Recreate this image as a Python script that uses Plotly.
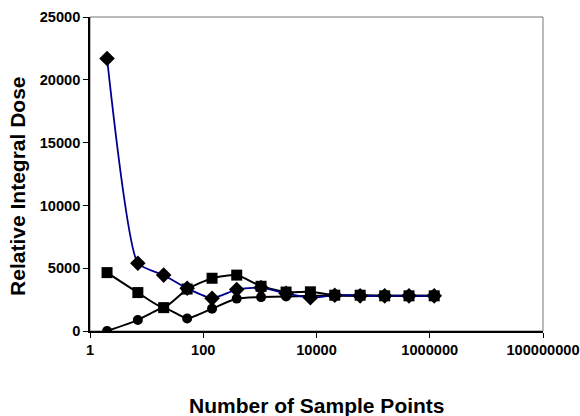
import plotly.graph_objects as go

x_vals = [2, 7, 20, 52, 143, 390, 1050, 2900, 7800, 21000, 59000, 160000, 430000, 1200000]
diamond_vals = [21700, 5400, 4450, 3400, 2600, 3300, 3450, 3000, 2650, 2850, 2800, 2800, 2800, 2800]
square_vals = [4650, 3060, 1860, 3340, 4200, 4450, 3560, 3100, 3120, 2850, 2850, 2800, 2800, 2800]
circle_vals = [0, 870, 1860, 1000, 1780, 2580, 2700, 2750, 2800, 2800, 2800, 2800, 2800, 2800]

x_tickvals = [1, 100, 10000, 1000000, 100000000]
x_ticktext = ["1", "100", "10000", "1000000", "100000000"]
y_tickvals = [0, 5000, 10000, 15000, 20000, 25000]
y_ticktext = ["0", "5000", "10000", "15000", "20000", "25000"]

fig = go.Figure()
fig.add_trace(go.Scatter(x=x_vals, y=circle_vals, mode="lines+markers",
                         line=dict(color="black", width=2, shape="spline", smoothing=0.5),
                         marker=dict(symbol="circle", size=10, color="black")))
fig.add_trace(go.Scatter(x=x_vals, y=square_vals, mode="lines+markers",
                         line=dict(color="black", width=2, shape="spline", smoothing=0.5),
                         marker=dict(symbol="square", size=11, color="black")))
fig.add_trace(go.Scatter(x=x_vals, y=diamond_vals, mode="lines+markers",
                         line=dict(color="#000090", width=1.8, shape="spline", smoothing=0.5),
                         marker=dict(symbol="diamond", size=12, color="black")))

font_family = "Liberation Sans, Arial, sans-serif"
fig.update_layout(
    width=580, height=416,
    margin=dict(l=90, r=37, t=17, b=85, autoexpand=False),
    paper_bgcolor="white", plot_bgcolor="white",
    showlegend=False,
    font=dict(family=font_family, color="black"),
    xaxis=dict(type="log", range=[0, 8], tickvals=x_tickvals, ticktext=x_ticktext,
               automargin=False,
               ticks="outside", ticklen=5, tickcolor="black", showgrid=False, zeroline=False,
               showline=True, linecolor="black", linewidth=1.5,
               tickfont=dict(size=14.6, family=font_family, weight="bold")),
    yaxis=dict(range=[0, 25000], tickvals=y_tickvals, ticktext=y_ticktext,
               automargin=False,
               ticks="outside", ticklen=5, tickcolor="black", showgrid=False, zeroline=False,
               showline=True, linecolor="black", linewidth=1.5,
               tickfont=dict(size=14.6, family=font_family, weight="bold")),
    shapes=[dict(type="rect", xref="x domain", yref="y domain", x0=0, x1=1, y0=0, y1=1,
                 line=dict(color="#777777", width=1), layer="below")],
    annotations=[
        dict(text="Number of Sample Points", xref="paper", yref="paper", x=0.5, y=-0.236,
             xanchor="center", yanchor="middle", showarrow=False,
             font=dict(size=21, family=font_family, weight="bold")),
        dict(text="Relative Integral Dose", xref="paper", yref="paper", x=-0.159, y=0.462,
             xanchor="center", yanchor="middle", showarrow=False, textangle=-90,
             font=dict(size=21, family=font_family, weight="bold")),
    ],
)

fig.write_html("out.html")
